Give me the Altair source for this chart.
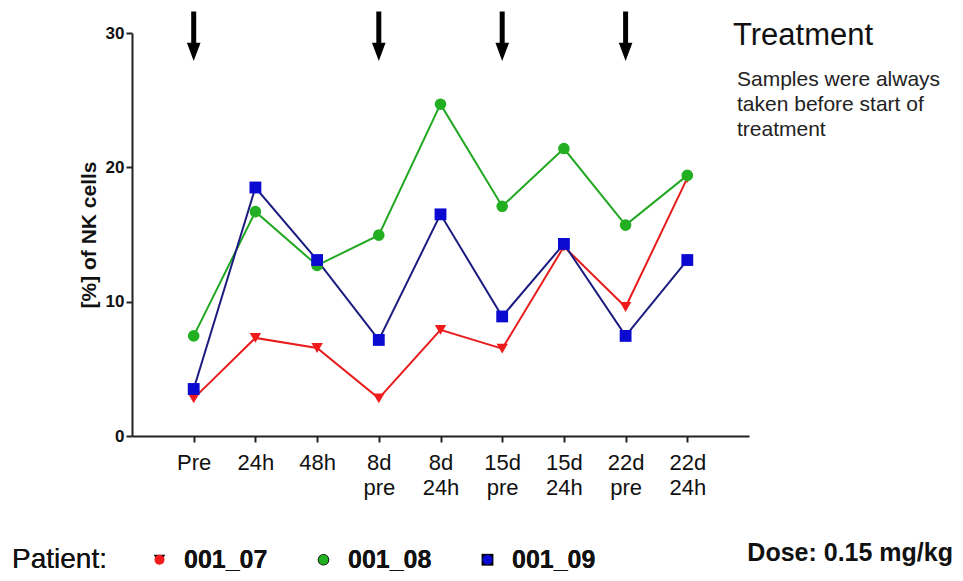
import altair as alt
import pandas as pd

categories = ["Pre", "24h", "48h", "8d pre", "8d 24h", "15d pre", "15d 24h", "22d pre", "22d 24h"]
patients = ["001_07", "001_08", "001_09"]
values_001_07 = [2.8, 7.3, 6.55, 2.8, 7.9, 6.5, 14.1, 9.6, 19.2]
values_001_08 = [7.45, 16.7, 12.7, 14.95, 24.7, 17.1, 21.4, 15.7, 19.4]
values_001_09 = [3.5, 18.5, 13.1, 7.15, 16.5, 8.9, 14.3, 7.45, 13.1]
arrow_categories = ["Pre", "8d pre", "15d pre", "22d pre"]

marker_colors = ["#f01c1c", "#22b022", "#0a0ad0"]
line_colors = ["#e81c1c", "#22a822", "#1c1c80"]
shapes = ["triangle-down", "circle", "square"]
marker_sizes = [130, 140, 220]

rows = []
for p, vals in zip(patients, [values_001_07, values_001_08, values_001_09]):
    for c, v in zip(categories, vals):
        rows.append({"time": c, "value": v, "patient": p})
df = pd.DataFrame(rows)

FONT = "Liberation Sans"

x_enc = alt.X(
    "time:N",
    sort=categories,
    scale=alt.Scale(type="point", padding=1),
    axis=alt.Axis(
        title=None,
        labelAngle=0,
        labelExpr="split(datum.value, ' ')",
        labelFont=FONT,
        labelFontSize=22,
        labelColor="#111",
        labelLineHeight=25,
        labelPadding=10,
        labelBaseline="top",
        tickSize=6,
        tickWidth=2,
        tickColor="#222",
        domainColor="#222",
        domainWidth=2,
        grid=False,
    ),
)
y_scale = alt.Scale(domain=[0, 30], nice=False)
y_enc = alt.Y(
    "value:Q",
    scale=y_scale,
    axis=alt.Axis(
        title="[%] of NK cells",
        values=[0, 10, 20, 30],
        labelFont=FONT,
        labelFontSize=17,
        labelFontWeight="bold",
        labelColor="#111",
        labelPadding=2,
        tickSize=6,
        tickWidth=2,
        tickColor="#222",
        domainColor="#222",
        domainWidth=2,
        grid=False,
        titleFont=FONT,
        titleFontSize=21,
        titleFontWeight="bold",
        titleColor="#111",
        titlePadding=6,
    ),
)

lines = alt.Chart(df).mark_line(strokeWidth=2).encode(
    x=x_enc,
    y=y_enc,
    color=alt.Color("patient:N", scale=alt.Scale(domain=patients, range=line_colors), legend=None),
    detail="patient:N",
)

legend_kw = dict(
    title="Patient:",
    orient="none",
    legendX=-120,
    legendY=514,
    direction="horizontal",
    titleOrient="left",
    titleFont=FONT,
    titleFontSize=28,
    titleFontWeight="normal",
    titleColor="#111",
    titlePadding=40,
    labelFont=FONT,
    labelFontSize=25,
    labelFontWeight="bold",
    labelColor="#111",
    labelOffset=12,
    columnPadding=43,
    symbolStrokeWidth=0,
)

points = alt.Chart(df).mark_point(filled=True, opacity=1).encode(
    x=x_enc,
    y=alt.Y("value:Q", scale=y_scale),
    color=alt.Color("patient:N", scale=alt.Scale(domain=patients, range=marker_colors),
                    legend=alt.Legend(**legend_kw)),
    shape=alt.Shape("patient:N", scale=alt.Scale(domain=patients, range=shapes),
                    legend=alt.Legend(**legend_kw)),
    size=alt.Size("patient:N", scale=alt.Scale(domain=patients, range=marker_sizes),
                  legend=alt.Legend(**legend_kw)),
)

arrow_df = pd.DataFrame({"time": arrow_categories, "top": [31.6] * 4, "bottom": [29.1] * 4, "head": [28.6] * 4})
shafts = alt.Chart(arrow_df).mark_rule(color="black", strokeWidth=5).encode(
    x=alt.X("time:N", sort=categories),
    y=alt.Y("top:Q", scale=y_scale),
    y2="bottom:Q",
)
heads = alt.Chart(arrow_df).mark_point(
    shape="M-0.75,-1 L0.75,-1 L0,1 Z", filled=True, color="black", opacity=1, size=330
).encode(
    x=alt.X("time:N", sort=categories),
    y=alt.Y("head:Q", scale=y_scale),
)

treatment = alt.Chart(pd.DataFrame({"t": ["Treatment"]})).mark_text(
    align="left", baseline="middle", font=FONT, fontSize=31, color="#111"
).encode(x=alt.value(601), y=alt.value(3), text="t:N")

note = alt.Chart(pd.DataFrame({"t": ["Samples were always\ntaken before start of\ntreatment"]})).mark_text(
    align="left", baseline="top", font=FONT, fontSize=21, color="#222", lineBreak="\n", lineHeight=25
).encode(x=alt.value(605), y=alt.value(36), text="t:N")

dose = alt.Chart(pd.DataFrame({"t": ["Dose: 0.15 mg/kg"]})).mark_text(
    align="right", baseline="middle", font=FONT, fontSize=25, fontWeight="bold", color="#111"
).encode(x=alt.value(821), y=alt.value(520), text="t:N")

chart = alt.layer(lines, points, shafts, heads, treatment, note, dose).resolve_scale(
    color="independent"
).properties(
    width=617,
    height=403,
    padding={"left": 124, "top": 25, "right": 206, "bottom": 137},
    autosize=alt.AutoSizeParams(type="none"),
    background="white",
).configure_view(stroke=None)

chart.save("out.html", embed_options={"renderer": "svg", "actions": False})
